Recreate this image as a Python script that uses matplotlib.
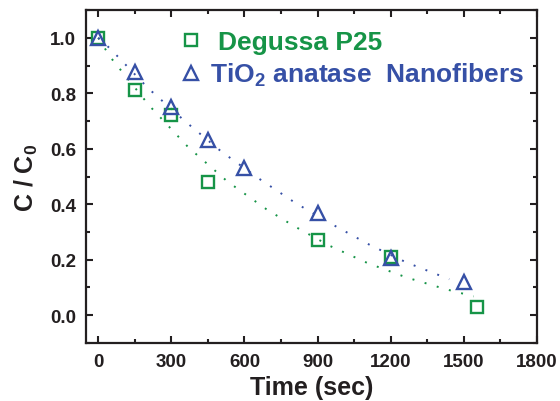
import numpy as np
import matplotlib.pyplot as plt
from matplotlib.ticker import MultipleLocator

plt.rcParams['font.family'] = ['Liberation Sans', 'DejaVu Sans']
plt.rcParams['font.weight'] = 'bold'
plt.rcParams['mathtext.fontset'] = 'custom'
plt.rcParams['mathtext.rm'] = 'Liberation Sans:bold'
plt.rcParams['mathtext.bf'] = 'Liberation Sans:bold'

# measured points
t_p25 = [0, 150, 300, 450, 900, 1200, 1555]
c_p25 = [1.0, 0.81, 0.72, 0.48, 0.27, 0.21, 0.03]
t_tio2 = [0, 150, 300, 450, 600, 900, 1200, 1500]
c_tio2 = [1.0, 0.875, 0.75, 0.63, 0.53, 0.37, 0.205, 0.12]

# dotted fit curves
t_fit_p25 = [0, 50, 210, 370, 530, 690, 800, 950, 1105, 1265, 1425, 1540]
c_fit_p25 = [1.0, 0.93, 0.755, 0.605, 0.482, 0.382, 0.323, 0.25, 0.188, 0.136, 0.094, 0.068]
t_fit_tio2 = [0, 50, 205, 355, 505, 660, 810, 965, 1115, 1265, 1440]
c_fit_tio2 = [1.0, 0.96, 0.818, 0.70, 0.59, 0.492, 0.404, 0.325, 0.253, 0.19, 0.13]

green = '#169447'
blue = '#3650a6'
dark = '#231f20'

fig = plt.figure(figsize=(5.6, 4.02), dpi=100)
ax = fig.add_axes([0.1536, 0.1443, 0.8054, 0.8283])

ax.plot(t_fit_p25, c_fit_p25, color=green, lw=1.4, ls=(0, (1, 5.5)))
ax.plot(t_fit_tio2, c_fit_tio2, color=blue, lw=1.4, ls=(0, (1, 5.5)))
sq, = ax.plot(t_p25, c_p25, ls='none', marker='s', ms=8, mfc='none', mec=green,
              mew=1.7)
tri, = ax.plot(t_tio2, c_tio2, ls='none', marker='^', ms=10, mfc='none', mec=blue,
               mew=1.7)

ax.set_xlim(-50, 1800)
ax.set_ylim(-0.1, 1.1)
ax.xaxis.set_minor_locator(MultipleLocator(150))
ax.yaxis.set_minor_locator(MultipleLocator(0.1))
ax.set_xticks([0, 300, 600, 900, 1200, 1500, 1800])
ax.set_yticks([0.0, 0.2, 0.4, 0.6, 0.8, 1.0])
ax.yaxis.set_major_formatter(plt.FormatStrFormatter('%.1f'))

ax.tick_params(which='both', direction='in', top=True, right=True,
               width=1.5, labelsize=13.5, colors=dark)
ax.tick_params(which='major', length=5, pad=7)
ax.tick_params(which='minor', length=2.8)
for s in ax.spines.values():
    s.set_linewidth(1.6)
    s.set_color(dark)

ax.set_xlabel('Time (sec)', fontsize=18, fontweight='bold', labelpad=4, color=dark)
ax.set_ylabel(r'C / C$_0$', fontsize=18, fontweight='bold', labelpad=7, color=dark)

leg_kw = dict(loc='center left', bbox_transform=fig.transFigure, frameon=False,
              numpoints=1, handlelength=1.0, borderpad=0, borderaxespad=0,
              labelcolor='markeredgecolor', prop={'weight': 'bold', 'size': 19})
leg1 = ax.legend([sq], ['Degussa P25'], bbox_to_anchor=(0.318, 0.893),
                 handletextpad=0.5, **leg_kw)
ax.add_artist(leg1)
ax.legend([tri], [r'TiO$_2$ anatase  Nanofibers'], bbox_to_anchor=(0.318, 0.812),
          handletextpad=0.2, **leg_kw)

fig.savefig('out.png', dpi=100)
